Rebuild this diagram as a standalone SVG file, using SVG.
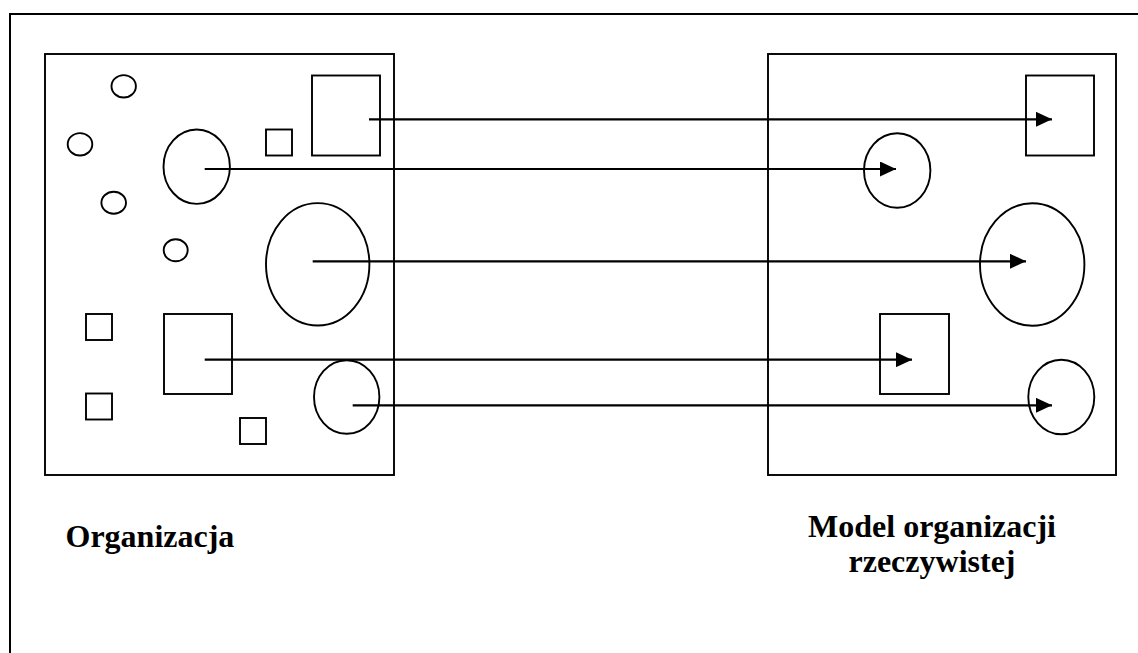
<svg xmlns="http://www.w3.org/2000/svg" width="1138" height="653" viewBox="0 0 1138 653">
<style>
.s{fill:none;stroke:#000;stroke-width:1.9}
.f{fill:none;stroke:#000;stroke-width:2}
.c{fill:none;stroke:#000;stroke-width:2.2}
.t{font-family:"Liberation Serif","Times New Roman",serif;font-weight:bold;font-size:32px;fill:#000}
</style>
<defs>
<marker id="ah" markerWidth="16" markerHeight="15" refX="16" refY="7.5" orient="auto" markerUnits="userSpaceOnUse">
<path d="M0,0 L16,7.5 L0,15 Z" fill="#000"/>
</marker>
</defs>
<rect width="1138" height="653" fill="#fff"/>
<rect id="frame" class="f" x="10" y="14" width="1160" height="680"/>
<g id="organizacja">
<rect class="s" x="45" y="54" width="349" height="421"/>
<ellipse class="s" cx="123.7" cy="86.3" rx="12.2" ry="11.2"/>
<ellipse class="s" cx="80" cy="144.3" rx="12.3" ry="11.2"/>
<ellipse class="s" cx="113.7" cy="202.7" rx="12.3" ry="11"/>
<ellipse class="s" cx="175.7" cy="250.3" rx="12" ry="11"/>
<ellipse class="s" cx="196.7" cy="166.7" rx="33.2" ry="37.2"/>
<rect class="s" x="266" y="129.5" width="26" height="26"/>
<rect class="s" x="312" y="75.5" width="68" height="80"/>
<ellipse class="s" cx="317.7" cy="264.3" rx="51.7" ry="61.2"/>
<rect class="s" x="86" y="314" width="26" height="26"/>
<rect class="s" x="164" y="314" width="68" height="80"/>
<rect class="s" x="86" y="393.5" width="26" height="26"/>
<rect class="s" x="240" y="418" width="26" height="26"/>
<ellipse class="s" cx="346.7" cy="397" rx="32.7" ry="36.8"/>
</g>
<g id="model">
<rect class="s" x="768" y="54" width="348" height="421"/>
<rect class="s" x="1026" y="75.5" width="68" height="80"/>
<ellipse class="s" cx="897.2" cy="170.5" rx="33.2" ry="37.2"/>
<ellipse class="s" cx="1032.2" cy="264.5" rx="52.2" ry="61.2"/>
<rect class="s" x="880" y="314" width="69" height="80"/>
<ellipse class="s" cx="1061.3" cy="397" rx="33" ry="37.3"/>
</g>
<g id="connectors">
<line class="c" x1="369" y1="119.3" x2="1052" y2="119.3" marker-end="url(#ah)"/>
<line class="c" x1="204.7" y1="169" x2="896" y2="169" marker-end="url(#ah)"/>
<line class="c" x1="312.7" y1="261.3" x2="1026" y2="261.3" marker-end="url(#ah)"/>
<line class="c" x1="204.7" y1="359.7" x2="912" y2="359.7" marker-end="url(#ah)"/>
<line class="c" x1="352.7" y1="405.3" x2="1052" y2="405.3" marker-end="url(#ah)"/>
</g>
<g id="label-organizacja">
<text class="t" x="65.5" y="546.7">Organizacja</text>
</g>
<g id="label-model">
<text class="t" x="932" y="536.7" text-anchor="middle">Model organizacji</text>
<text class="t" x="932" y="571.7" text-anchor="middle">rzeczywistej</text>
</g>
</svg>
